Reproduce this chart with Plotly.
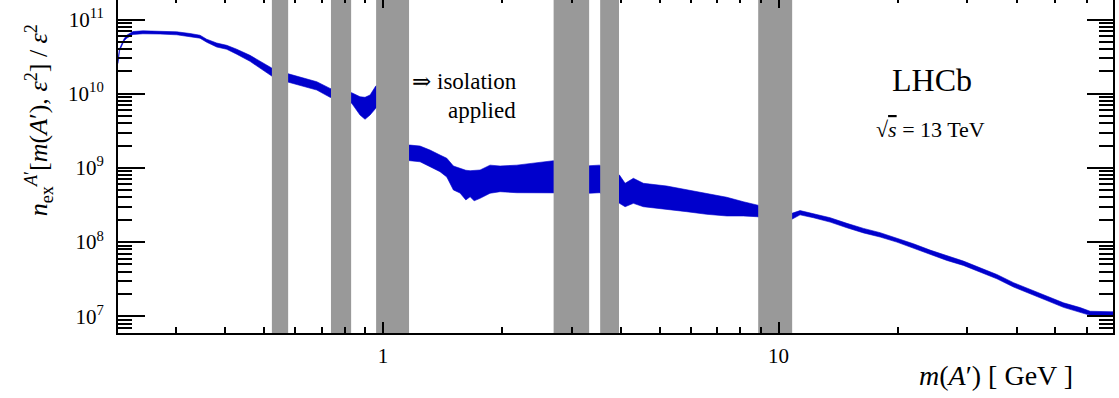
import math
import plotly.graph_objects as go

# Expected A' yield per epsilon^2 versus dark-photon mass (prompt search, 13 TeV)
mass = [0.214, 0.2158, 0.2186, 0.2216, 0.2251, 0.2335, 0.2474, 0.2733, 0.3012, 0.3253,
        0.3449, 0.3586, 0.3801, 0.4029, 0.4270, 0.4614, 0.4891, 0.5235, 0.5712, 0.6171,
        0.6805, 0.7350, 0.7790, 0.834, 0.8751, 0.901, 0.9277, 0.959, 1.012, 1.06,
        1.105, 1.171, 1.241, 1.315, 1.394, 1.45, 1.507, 1.566, 1.62, 1.661,
        1.70, 1.76, 1.865, 1.977, 2.179, 2.40, 2.697, 3.0, 3.325, 3.524,
        3.75, 3.96, 4.093, 4.295, 4.553, 5.217, 5.861, 6.584, 7.397, 8.147,
        8.81, 9.8, 10.8, 11.33, 12.25, 13.5, 14.88, 16.39, 18.06, 19.9,
        21.92, 24.15, 26.62, 29.32, 32.32, 35.62, 39.24, 43.23, 47.64, 52.48,
        57.82, 61.29, 70.0]
n_upper = [2.8e10, 4.0e10, 4.68e10, 5.46e10, 6.14e10, 6.89e10, 7.04e10, 7.0e10, 6.83e10, 6.48e10,
           6.14e10, 5.43e10, 4.82e10, 4.49e10, 3.98e10, 3.29e10, 2.72e10, 2.22e10, 1.88e10, 1.68e10,
           1.45e10, 1.18e10, 1.12e10, 1.03e10, 9.11e9, 8.94e9, 9.6e9, 1.27e10, 1.53e10, 1.6e10,
           2.03e9, 2.03e9, 1.97e9, 1.74e9, 1.49e9, 1.35e9, 1.06e9, 9.97e8, 9.3e8, 9.17e8,
           9.2e8, 9.37e8, 1.09e9, 1.06e9, 1.09e9, 1.15e9, 1.25e9, 1.15e9, 1.07e9, 1.09e9,
           9.5e8, 8.02e8, 6.2e8, 7.24e8, 6.2e8, 5.7e8, 5.04e8, 4.55e8, 4.02e8, 3.5e8,
           3.16e8, 2.71e8, 2.44e8, 2.66e8, 2.43e8, 2.13e8, 1.79e8, 1.53e8, 1.34e8, 1.14e8,
           9.5e7, 7.8e7, 6.5e7, 5.55e7, 4.5e7, 3.66e7, 2.84e7, 2.3e7, 1.88e7, 1.52e7,
           1.31e7, 1.17e7, 1.15e7]
n_lower = [2.55e10, 3.76e10, 4.39e10, 5.13e10, 5.6e10, 6.28e10, 6.42e10, 6.38e10, 6.22e10, 5.9e10,
           5.6e10, 4.94e10, 4.26e10, 3.97e10, 3.41e10, 2.73e10, 2.19e10, 1.73e10, 1.45e10, 1.31e10,
           1.12e10, 8.94e9, 8.22e9, 7.42e9, 5.16e9, 4.52e9, 5.16e9, 6.36e9, 8.2e9, 8.5e9,
           1.28e9, 1.25e9, 1.21e9, 1.04e9, 8.89e8, 7.54e8, 5.04e8, 4.59e8, 3.7e8, 4.09e8,
           3.6e8, 3.89e8, 4.55e8, 4.78e8, 4.63e8, 4.63e8, 4.63e8, 4.6e8, 4.55e8, 4.63e8,
           4.0e8, 3.33e8, 3.0e8, 3.33e8, 3.0e8, 2.77e8, 2.57e8, 2.37e8, 2.25e8, 2.25e8,
           2.2e8, 2.05e8, 2.03e8, 2.33e8, 2.13e8, 1.86e8, 1.56e8, 1.33e8, 1.17e8, 1.0e8,
           8.3e7, 6.82e7, 5.66e7, 4.85e7, 3.93e7, 3.2e7, 2.48e7, 2.0e7, 1.63e7, 1.32e7,
           1.14e7, 1.03e7, 1.01e7]

# Mass windows removed from the search (GeV)
veto_lo = [0.524, 0.739, 0.961, 2.70, 3.54, 8.88]
veto_hi = [0.576, 0.831, 1.164, 3.32, 3.95, 10.82]

x_range = [-0.6696, 1.8451]   # log10 of 0.214 .. 70 GeV
y_range = [6.775, 11.263]

x_major = [1, 10]
x_major_text = ["1", "10"]
x_minor = [0.3, 0.4, 0.5, 0.6, 0.7, 0.8, 0.9, 2, 3, 4, 5, 6, 7, 8, 9, 20, 30, 40, 50, 60, 70]
y_major = [1e7, 1e8, 1e9, 1e10, 1e11]
y_major_text = ["10<sup>7</sup>", "10<sup>8</sup>", "10<sup>9</sup>", "10<sup>10</sup>", "10<sup>11</sup>"]
y_minor = [k * 10.0 ** d for d in range(6, 12) for k in range(2, 10)
           if y_range[0] <= math.log10(k * 10.0 ** d) <= y_range[1]]

BLUE = "rgb(0,0,204)"
GREY = "rgb(153,153,153)"
FONT = "'Liberation Serif', 'DejaVu Serif', serif"

fig = go.Figure()

# yield band
fig.add_trace(go.Scatter(
    x=mass + mass[::-1], y=n_upper + n_lower[::-1],
    mode="lines", fill="toself", fillcolor=BLUE,
    line=dict(color=BLUE, width=0.6), hoverinfo="skip", showlegend=False))

# vetoed mass windows
y_bot, y_top = 10 ** y_range[0], 10 ** y_range[1]
for lo, hi in zip(veto_lo, veto_hi):
    fig.add_trace(go.Scatter(
        x=[lo, lo, hi, hi, lo], y=[y_bot, y_top, y_top, y_bot, y_bot],
        mode="lines", fill="toself", fillcolor=GREY,
        line=dict(color=GREY, width=0), hoverinfo="skip", showlegend=False))

# empty trace carrying the mirrored top/right axes
fig.add_trace(go.Scatter(x=[], y=[], xaxis="x2", yaxis="y2", showlegend=False))

tickfont = dict(family=FONT, size=21, color="black")

fig.update_layout(
    width=1119, height=398,
    margin=dict(l=118, r=6, t=0, b=65),
    paper_bgcolor="white", plot_bgcolor="white",
    font=dict(family=FONT, color="black"),
    showlegend=False,
    xaxis=dict(type="log", range=x_range, showgrid=False, zeroline=False,
               showline=True, linecolor="black", linewidth=2,
               ticks="inside", ticklen=11, tickwidth=1.5, tickcolor="black",
               tickmode="array", tickvals=x_major, ticktext=x_major_text,
               tickfont=tickfont, ticklabelstandoff=3,
               minor=dict(tickmode="array", tickvals=x_minor, ticks="inside",
                          ticklen=6, tickwidth=1.5, tickcolor="black", showgrid=False)),
    yaxis=dict(type="log", range=y_range, showgrid=False, zeroline=False,
               showline=True, linecolor="black", linewidth=2,
               ticks="inside", ticklen=27, tickwidth=1.5, tickcolor="black",
               tickmode="array", tickvals=y_major, ticktext=y_major_text,
               tickfont=tickfont, ticklabelstandoff=8,
               minor=dict(tickmode="array", tickvals=y_minor, ticks="inside",
                          ticklen=14, tickwidth=1.5, tickcolor="black", showgrid=False)),
    xaxis2=dict(type="log", range=x_range, overlaying="x", side="top", anchor="y2",
                showgrid=False, zeroline=False, showline=False,
                ticks="inside", ticklen=8, tickwidth=1.5, tickcolor="black",
                tickmode="array", tickvals=x_major, showticklabels=False,
                minor=dict(tickmode="array", tickvals=x_minor, ticks="inside",
                           ticklen=3, tickwidth=1.5, tickcolor="black", showgrid=False)),
    yaxis2=dict(type="log", range=y_range, overlaying="y", side="right", anchor="x2",
                showgrid=False, zeroline=False,
                showline=True, linecolor="black", linewidth=2,
                ticks="inside", ticklen=26, tickwidth=1.5, tickcolor="black",
                tickmode="array", tickvals=y_major, showticklabels=False,
                minor=dict(tickmode="array", tickvals=y_minor, ticks="inside",
                           ticklen=14, tickwidth=1.5, tickcolor="black", showgrid=False)),
)

ann_font = dict(family=FONT, color="black")
fig.add_annotation(
    text="<i>n</i><sub>ex</sub><sup><i>A</i>′</sup>[<i>m</i>(<i>A</i>′), <i>ε</i><sup>2</sup>] / <i>ε</i><sup>2</sup>",
    xref="paper", yref="paper", x=-0.08, y=0.64, xanchor="center", yanchor="middle",
    textangle=-90, showarrow=False, font=dict(size=26, **ann_font))
fig.add_annotation(
    text="<i>m</i>(<i>A</i>′) [ GeV ]",
    xref="paper", yref="paper", x=0.962, y=-0.129, xanchor="right", yanchor="middle",
    showarrow=False, font=dict(size=28, **ann_font))
fig.add_annotation(text="LHCb", xref="paper", yref="paper", x=0.818, y=0.76,
                   xanchor="center", yanchor="middle", showarrow=False,
                   font=dict(size=32, **ann_font))
fig.add_annotation(
    text="√<span style='text-decoration:overline'><i>s</i></span> = 13 TeV",
    xref="paper", yref="paper", x=0.817, y=0.6126, xanchor="center", yanchor="middle",
    showarrow=False, font=dict(size=22, **ann_font))
# two-line note, the lines meet at y = 96 px from the top
fig.add_annotation(text="⇒ isolation", xref="paper", yref="paper", x=0.2935, y=0.712,
                   xanchor="left", yanchor="bottom", showarrow=False,
                   font=dict(size=23, **ann_font))
fig.add_annotation(text="applied", xref="paper", yref="paper", x=0.3658, y=0.712,
                   xanchor="center", yanchor="top", showarrow=False,
                   font=dict(size=23, **ann_font))

fig.write_html("out.html")
